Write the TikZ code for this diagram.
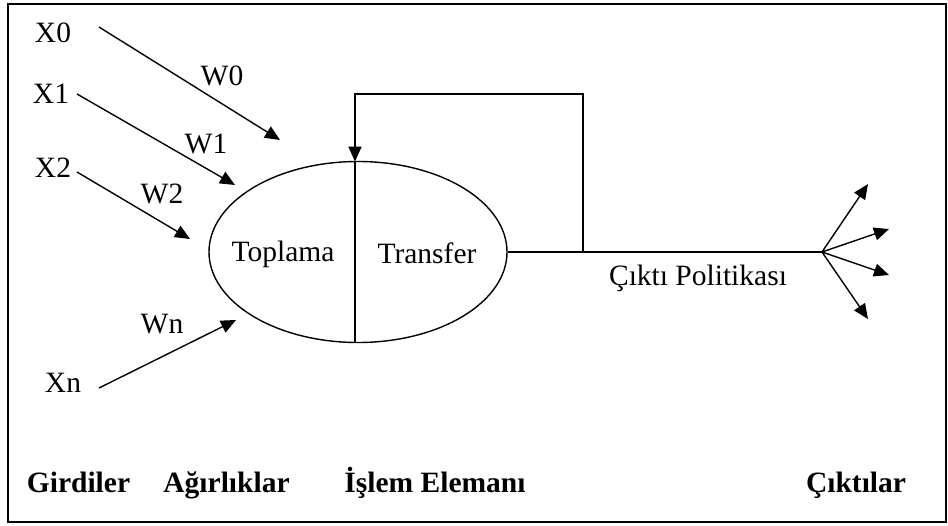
\documentclass[tikz,border=0pt]{standalone}
\usepackage{fontspec}
\setmainfont{Liberation Serif}
\usetikzlibrary{arrows.meta,shapes.geometric}
\begin{document}
\begin{tikzpicture}[x=1pt,y=-1pt,
  lbl/.style={font=\fontsize{29.5}{32}\selectfont, inner sep=0pt, anchor=base},
  head/.style={font=\fontsize{29.5}{32}\selectfont\bfseries, inner sep=0pt, anchor=base},
  wire/.style={line width=1.4pt},
  arr/.style={wire, -{Triangle[length=15pt,width=13pt]}}]
\useasboundingbox (0,0) rectangle (948,525);
\draw[line width=2pt] (8,4) rectangle (946,522);

% inputs
\node[lbl] (x0) at (53,42) {X0};
\node[lbl] (x1) at (51,103) {X1};
\node[lbl] (x2) at (53,177) {X2};
\node[lbl] (xn) at (63,392) {Xn};

% weights
\node[lbl] (w0) at (222,85) {W0};
\node[lbl] (w1) at (206,153) {W1};
\node[lbl] (w2) at (162,203) {W2};
\node[lbl] (wn) at (162,333) {Wn};

% processing element
\node[draw, wire, ellipse, minimum width=298pt, minimum height=181pt, inner sep=0pt] (pe) at (358,252) {};
\coordinate (dtop) at (355,161.6);
\coordinate (dbot) at (355,342.4);
\draw[wire] (dtop) -- (dbot);
\node[lbl] (sum) at (283,261) {Toplama};
\node[lbl] (tf) at (427,263) {Transfer};

% input connectors
\coordinate (s0) at (99,27);   \coordinate (e0) at (280,140);
\coordinate (s1) at (77,94);   \coordinate (e1) at (235,185);
\coordinate (s2) at (77,172);  \coordinate (e2) at (190,239);
\coordinate (sn) at (99,388);  \coordinate (en) at (236,320);
\draw[arr] (s0) -- (e0);
\draw[arr] (s1) -- (e1);
\draw[arr] (s2) -- (e2);
\draw[arr] (sn) -- (en);

% output and feedback
\coordinate (fan) at (822,252);
\coordinate (br) at (583,252);
\draw[wire] (pe.east) -- (fan);
\draw[arr] (br) -- (583,94) -- (355,94) -- (dtop);
\node[lbl] (pol) at (698,285) {Çıktı Politikası};

\coordinate (o1) at (868,184);
\coordinate (o2) at (889,229);
\coordinate (o3) at (889,275);
\coordinate (o4) at (868,319);
\draw[arr] (fan) -- (o1);
\draw[arr] (fan) -- (o2);
\draw[arr] (fan) -- (o3);
\draw[arr] (fan) -- (o4);

% column headings
\node[head] (h1) at (78.5,492) {Girdiler};
\node[head] (h2) at (226.5,492) {Ağırlıklar};
\node[head] (h3) at (435,492) {İşlem Elemanı};
\node[head] (h4) at (856,492) {Çıktılar};
\end{tikzpicture}
\end{document}
